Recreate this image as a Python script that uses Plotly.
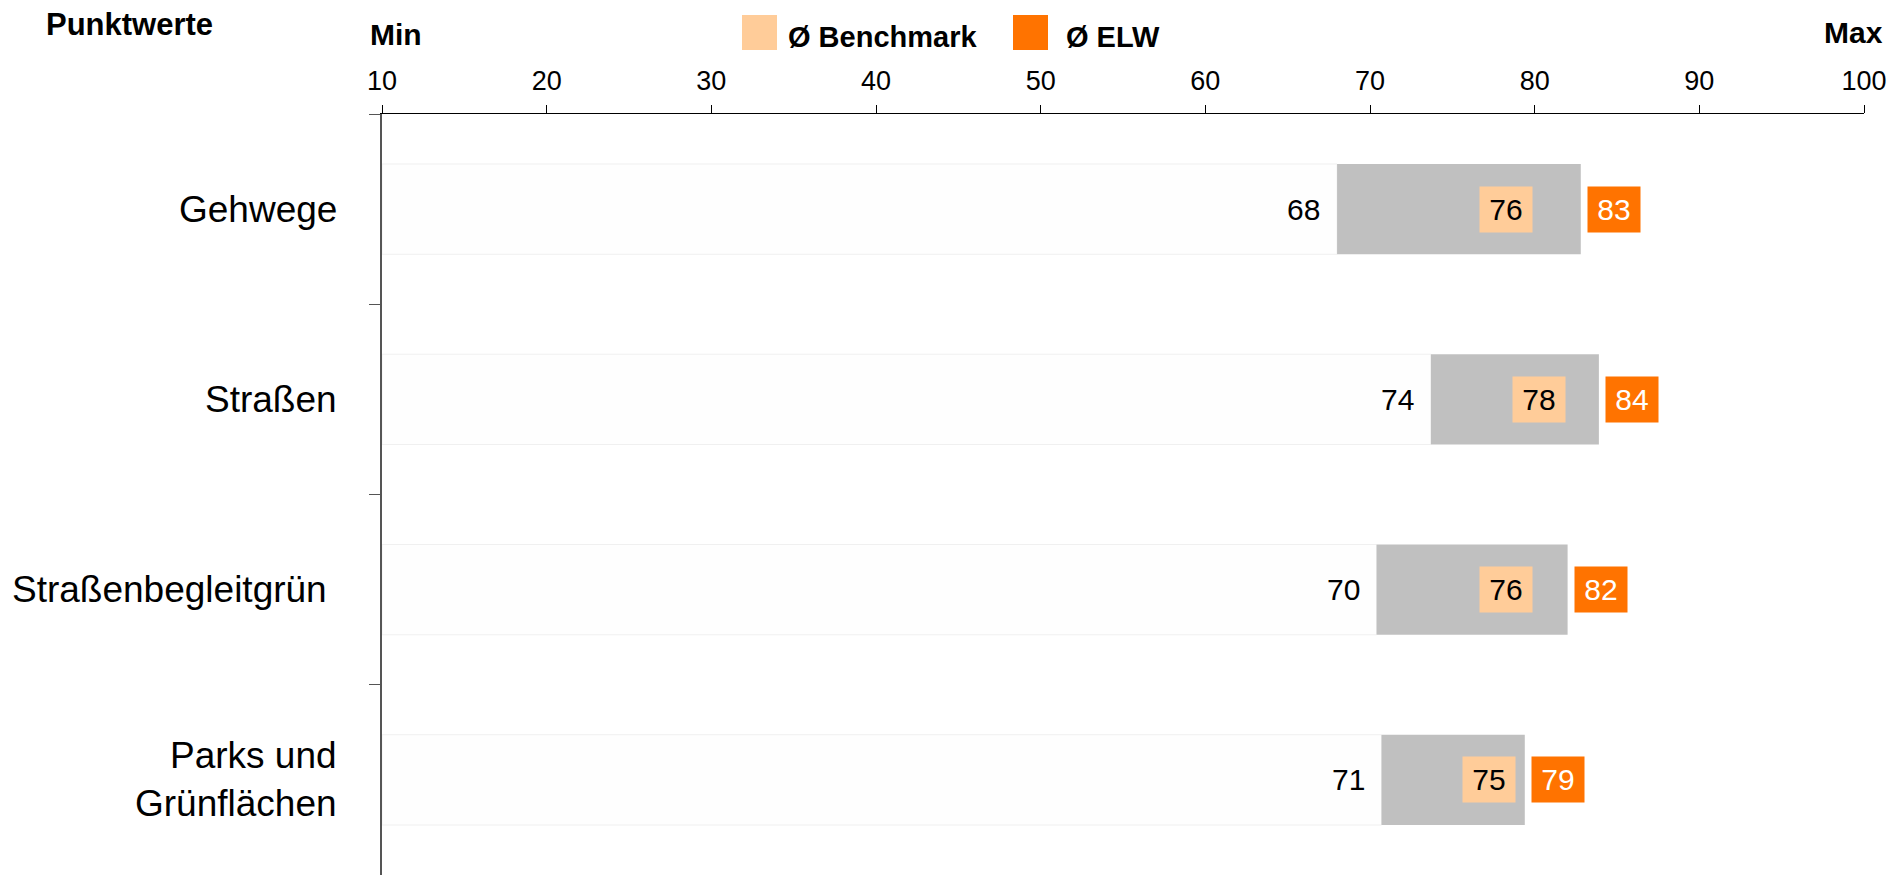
import plotly.graph_objects as go

# ---- data ----
categories = ["Gehwege", "Straßen", "Straßenbegleitgrün ", "Parks und<br>Grünflächen"]
min_values = [68.0, 73.7, 70.4, 70.7]
benchmark_values = [76, 78, 76, 75]
elw_values = [82.8, 83.9, 82.0, 79.4]
axis_min, axis_max = 10, 100
tick_values = [10, 20, 30, 40, 50, 60, 70, 80, 90, 100]

FONT = "Arial, 'Liberation Sans', sans-serif"
GRAY = "#c0c0c0"
LIGHT_ORANGE = "#ffcc99"
ORANGE = "#ff7300"

ypos = list(range(len(categories)))

fig = go.Figure()
fig.add_trace(go.Bar(
    orientation="h", y=ypos, base=axis_min,
    x=[m - axis_min for m in min_values], width=0.475,
    marker=dict(color="#fefefe", line=dict(color="#f0f0f0", width=1)),
    hoverinfo="skip", showlegend=False))
fig.add_trace(go.Bar(
    orientation="h", y=ypos, base=min_values,
    x=[e - m for e, m in zip(elw_values, min_values)], width=0.475,
    marker=dict(color=GRAY, line=dict(width=0)),
    hoverinfo="skip", showlegend=False))

ann = []
for i, cat in enumerate(categories):
    ann.append(dict(x=0, xref="paper", y=i, yref="y", text=cat, showarrow=False,
                    xanchor="right", yanchor="middle", xshift=-43, align="right",
                    font=dict(family=FONT, size=37, color="black")))
    ann.append(dict(x=min_values[i], y=i, xref="x", yref="y", text=f"{min_values[i]:.0f}",
                    showarrow=False, xanchor="right", yanchor="middle", xshift=-15,
                    font=dict(family=FONT, size=30, color="black")))
    ann.append(dict(x=benchmark_values[i], y=i, xref="x", yref="y", text=f"{benchmark_values[i]:.0f}",
                    showarrow=False, xanchor="left", yanchor="middle", xshift=10,
                    width=52, height=45, bgcolor=LIGHT_ORANGE, borderpad=0,
                    font=dict(family=FONT, size=30, color="black")))
    ann.append(dict(x=elw_values[i], y=i, xref="x", yref="y", text=f"{elw_values[i]:.0f}",
                    showarrow=False, xanchor="left", yanchor="middle", xshift=6,
                    width=52, height=45, bgcolor=ORANGE, borderpad=0,
                    font=dict(family=FONT, size=30, color="white")))

# header texts (pixel positions, converted below)
ann += [
    dict(x=129, y=875 - 25, xref="paper", yref="paper", text="<b>Punktwerte</b>", showarrow=False,
         xanchor="center", yanchor="middle", font=dict(family=FONT, size=31, color="black")),
    dict(x=368, y=875 - 34, xref="paper", yref="paper", text="<b>Min</b>", showarrow=False,
         xanchor="left", yanchor="middle", font=dict(family=FONT, size=30, color="black")),
    dict(x=1885, y=875 - 32, xref="paper", yref="paper", text="<b>Max</b>", showarrow=False,
         xanchor="right", yanchor="middle", font=dict(family=FONT, size=30, color="black")),
    dict(x=786, y=875 - 37, xref="paper", yref="paper", text="<b>Ø Benchmark</b>", showarrow=False,
         xanchor="left", yanchor="middle", font=dict(family=FONT, size=29, color="black")),
    dict(x=1064, y=875 - 37, xref="paper", yref="paper", text="<b>Ø ELW</b>", showarrow=False,
         xanchor="left", yanchor="middle", font=dict(family=FONT, size=29, color="black")),
]

W, H = 1892, 875
ML, MR, MT, MB = 382, 28, 114, 0
pw, ph = W - ML - MR, H - MT - MB
for a in ann:
    if a.get("xref") == "paper" and a.get("yref") == "paper":
        a["x"] = (a["x"] - ML) / pw
        a["y"] = (a["y"] - MB) / ph

def px_rect(x0, y0, x1, y1, color):
    return dict(type="rect", xref="paper", yref="paper",
                x0=(x0 - ML) / pw, x1=(x1 - ML) / pw,
                y0=(H - y1 - MB) / ph, y1=(H - y0 - MB) / ph,
                fillcolor=color, line=dict(width=0), layer="above")

shapes = [px_rect(742, 15, 777, 50, LIGHT_ORANGE), px_rect(1013, 15, 1048, 50, ORANGE)]

fig.update_layout(
    width=W, height=H,
    margin=dict(l=ML, r=MR, t=MT, b=MB, pad=0),
    paper_bgcolor="white", plot_bgcolor="white",
    barmode="overlay", showlegend=False,
    annotations=ann, shapes=shapes,
    font=dict(family=FONT, color="black"),
    xaxis=dict(range=[axis_min, axis_max], side="top", tickvals=tick_values,
               ticks="outside", ticklen=8, tickcolor="black", tickwidth=1,
               showline=True, linecolor="black", linewidth=1, showgrid=False,
               zeroline=False, tickfont=dict(family=FONT, size=27, color="black"),
               ticklabelstandoff=4),
    yaxis=dict(range=[3.5, -0.5], tickvals=[-0.5, 0.5, 1.5, 2.5], ticktext=["", "", "", ""],
               ticks="outside", ticklen=11, tickcolor="#555555", tickwidth=1,
               showline=True, linecolor="#555555", linewidth=1.5, showgrid=False,
               zeroline=False),
)

fig.write_html("out.html", config={"displayModeBar": False},
               post_script="document.body.style.margin='0';document.body.style.overflow='hidden';")
